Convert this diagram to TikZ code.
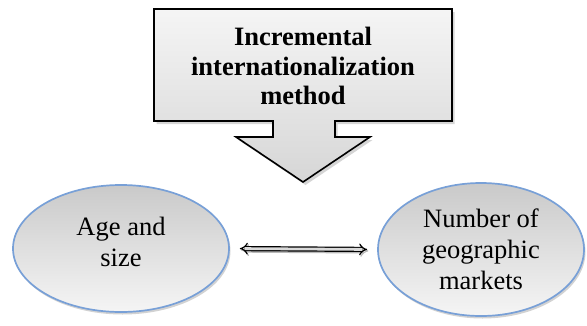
\documentclass[tikz,border=0pt]{standalone}
\usepackage{fontspec}
\setmainfont{Liberation Serif}
\usetikzlibrary{shapes.geometric,shadows,arrows.meta}
\definecolor{rimblue}{RGB}{120,160,215}
\tikzset{
  oval/.style={ellipse, draw=rimblue, line width=1.7pt,
    top color=gray!42, bottom color=gray!8,
    drop shadow={shadow xshift=1.5pt, shadow yshift=-2.5pt, fill=gray!70},
    inner sep=0pt},
  ovaltext/.style={align=center, inner sep=0pt,
    font=\fontsize{26.5}{31}\selectfont},
  calloutbox/.style={draw=black, line width=1.6pt,
    top color=gray!8, bottom color=gray!32,
    drop shadow={shadow xshift=2.5pt, shadow yshift=-3pt, fill=gray!65}},
  title/.style={align=center, inner sep=0pt,
    font=\bfseries\fontsize{26.5}{29.5}\selectfont},
  linkarrow/.style={line width=1.2pt, double=gray!30, double distance=2.8pt,
    {Implies}-{Implies}, shorten <=10pt, shorten >=10pt},
  linkshadow/.style={linkarrow, draw=gray!55, double=gray!55}
}
\begin{document}
\begin{tikzpicture}[x=1pt, y=-1pt]
  \useasboundingbox (0,0) rectangle (587,325);

  % box with a downward arrow underneath
  \path[calloutbox] (154,9) -- (452,9) -- (452,121) -- (335,121) -- (335,137)
    -- (370,137) -- (303,182) -- (236,137) -- (273,137) -- (273,121)
    -- (154,121) -- cycle;
  \node[title] (method) at (303,66) {Incremental\\internationalization\\method};

  % the two related factors
  \node[oval, minimum width=216pt, minimum height=127pt] (age) at (121,248.5) {};
  \node[ovaltext] (agetext) at ([yshift=7pt]age.center) {Age and\\size};
  \node[oval, minimum width=206pt, minimum height=133pt] (markets) at (481,249.5) {};
  \node[ovaltext] (marketstext) at (markets.center) {Number of\\geographic\\markets};

  % two-way link between them, with its shadow
  \draw[linkshadow, transform canvas={xshift=1.2pt, yshift=-1.5pt}] (age.east) -- (markets.west);
  \draw[linkarrow] (age.east) -- (markets.west);
\end{tikzpicture}
\end{document}
